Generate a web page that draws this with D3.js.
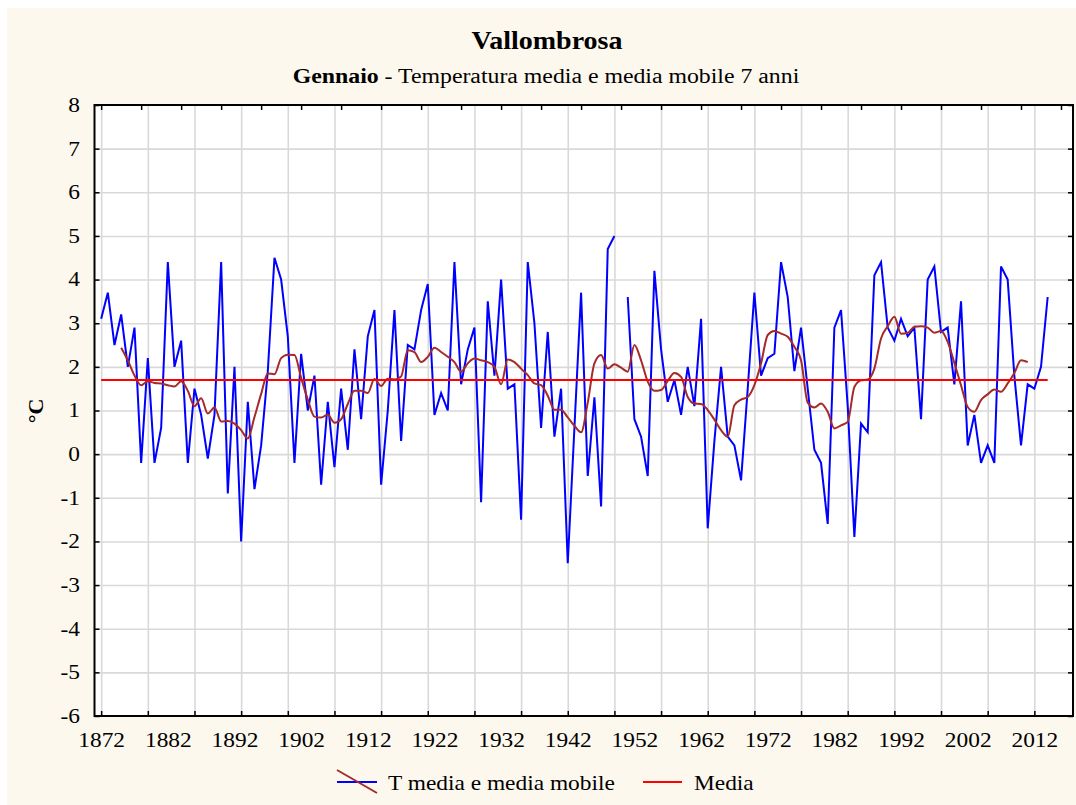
<!DOCTYPE html>
<html lang="it">
<head>
  <meta charset="utf-8">
  <title>Vallombrosa - Gennaio</title>
  <script src="https://d3js.org/d3.v7.min.js"></script>
  <style>
    body { margin: 0; background: #fff; }
    text { font-family: "Liberation Serif", "Times New Roman", serif; fill: #000; }
  </style>
</head>
<body>
  <svg id="chart" width="1076" height="805"></svg>

  <script>
    // Temperatura media di gennaio, un valore per anno dal 1872 (null = dato mancante)
    const primoAnno = 1872;
    const tempGennaio = [
      3.1, 3.7, 2.5, 3.2, 2.0, 2.9, -0.2, 2.2, -0.2, 0.6,
      4.4, 2.0, 2.6, -0.2, 1.5, 0.9, -0.1, 0.9, 4.4, -0.9,
      2.0, -2.0, 1.2, -0.8, 0.2, 1.9, 4.5, 4.0, 2.7, -0.2,
      2.3, 1.0, 1.8, -0.7, 1.2, -0.3, 1.5, 0.1, 2.4, 0.8,
      2.7, 3.3, -0.7, 1.0, 3.3, 0.3, 2.5, 2.4, 3.3, 3.9,
      0.9, 1.4, 1.0, 4.4, 1.6, 2.4, 2.9, -1.1, 3.5, 1.8,
      4.0, 1.5, 1.6, -1.5, 4.4, 3.0, 0.6, 2.8, 0.4, 1.5,
      -2.5, 0.6, 3.7, -0.5, 1.3, -1.2, 4.7, 5.0, null, 3.6,
      0.8, 0.4, -0.5, 4.2, 2.4, 1.2, 1.7, 0.9, 2.0, 1.1,
      3.1, -1.7, 0.3, 2.0, 0.4, 0.2, -0.6, 1.5, 3.7, 1.8,
      2.2, 2.3, 4.4, 3.6, 1.9, 2.9, 1.5, 0.1, -0.2, -1.6,
      2.9, 3.3, 1.1, -1.9, 0.7, 0.5, 4.1, 4.4, 2.9, 2.6,
      3.1, 2.7, 2.9, 0.8, 4.0, 4.3, 2.8, 2.9, 1.6, 3.5,
      0.2, 0.9, -0.2, 0.2, -0.2, 4.3, 4.0, 1.8, 0.2, 1.6,
      1.5, 2.0, 3.6
    ];

    // Media mobile 7 anni, dal 1875 al 2011
    const inizioMobile = 1875;
    const mediaMobile = [
      2.44, 2.15, 1.80, 1.58, 1.67, 1.63, 1.62,
      1.58, 1.55, 1.67, 1.45, 1.10, 1.28, 0.93, 1.07, 0.75, 0.76,
      0.70, 0.55, 0.36, 0.85, 1.38, 1.85, 1.83, 2.20, 2.28, 2.27,
      1.75, 1.25, 0.86, 0.84, 0.90, 0.72, 0.80, 1.15, 1.45, 1.45,
      1.40, 1.72, 1.56, 1.73, 1.71, 1.78, 2.38, 2.34, 2.11, 2.23,
      2.44, 2.34, 2.23, 2.11, 1.89, 2.08, 2.19, 2.15, 2.11, 2.00,
      1.60, 2.17, 2.11, 1.96, 1.81, 1.62, 1.58, 1.34, 1.02, 1.02,
      0.84, 0.65, 0.50, 1.18, 2.08, 2.27, 1.96, 2.06, 1.98, 1.89,
      2.50, 2.15, 1.66, 1.45, 1.47, 1.68, 1.86, 1.77, 1.31, 1.16,
      1.15, 1.01, 0.79, 0.55, 0.40, 1.12, 1.25, 1.31, 1.58, 2.08,
      2.73, 2.82, 2.76, 2.69, 2.46, 2.15, 1.18, 1.07, 1.16, 0.97,
      0.59, 0.66, 0.74, 1.54, 1.69, 1.71, 1.96, 2.65, 2.93, 3.15,
      2.76, 2.78, 2.92, 2.93, 2.90, 2.78, 2.82, 2.57, 2.09, 1.58,
      1.08, 0.97, 1.24, 1.37, 1.48, 1.43, 1.62, 1.86, 2.15, 2.11
    ];

    // Media di tutto il periodo
    const mediaGenerale = 1.7;

    const anniEtichette = [1872, 1882, 1892, 1902, 1912, 1922, 1932, 1942, 1952, 1962, 1972, 1982, 1992, 2002, 2012];
    const valoriY = [-6, -5, -4, -3, -2, -1, 0, 1, 2, 3, 4, 5, 6, 7, 8];
    const anniGriglia = d3.range(1872, 2013, 7);
    const anniTacche = d3.range(1872, 2017, 6);

    const svg = d3.select("#chart");
    const margSx = 94.5, margDx = 1073, margSu = 105, margGiu = 716;
    const allarga = "scale(1.17,1)";

    const x = d3.scaleLinear().domain([1871, 2017.8]).range([margSx, margDx]);
    const y = d3.scaleLinear().domain([-6, 8]).range([margGiu, margSu]);

    // sfondo
    svg.append("rect").attr("width", 1076).attr("height", 805).attr("fill", "#fff");
    svg.append("rect").attr("x", 7).attr("y", 8).attr("width", 1069).attr("height", 797).attr("fill", "#fdf8ee");
    svg.append("rect").attr("x", margSx).attr("y", margSu).attr("width", margDx - margSx).attr("height", margGiu - margSu).attr("fill", "#fff");

    // griglia
    svg.append("g")
      .attr("transform", `translate(0,${margGiu})`)
      .call(d3.axisBottom(x).tickValues(anniGriglia).tickSize(-(margGiu - margSu)).tickFormat(""))
      .call(g => g.select(".domain").remove())
      .selectAll("line").attr("stroke", "#d9d9d9").attr("stroke-width", 1.6);

    svg.append("g")
      .attr("transform", `translate(${margSx},0)`)
      .call(d3.axisLeft(y).tickValues(valoriY.slice(1, -1)).tickSize(-(margDx - margSx)).tickFormat(""))
      .call(g => g.select(".domain").remove())
      .selectAll("line").attr("stroke", "#d9d9d9").attr("stroke-width", 1.6);

    // linee dei dati
    const datiT = tempGennaio.map((v, i) => ({ anno: primoAnno + i, valore: v }));
    const datiM = mediaMobile.map((v, i) => ({ anno: inizioMobile + i, valore: v }));
    const estremi = d3.extent(datiT, d => d.anno);
    const datiMedia = estremi.map(a => ({ anno: a, valore: mediaGenerale }));

    const linea = d3.line()
      .defined(d => d.valore !== null)
      .x(d => x(d.anno))
      .y(d => y(d.valore));

    svg.append("path")
      .datum(datiT)
      .attr("d", linea)
      .attr("fill", "none")
      .attr("stroke", "#0000ff")
      .attr("stroke-width", 2);

    svg.append("path")
      .datum(datiM)
      .attr("d", linea.curve(d3.curveMonotoneX))
      .attr("fill", "none")
      .attr("stroke", "#a52a2a")
      .attr("stroke-width", 2);

    svg.append("path")
      .datum(datiMedia)
      .attr("d", linea.curve(d3.curveLinear))
      .attr("fill", "none")
      .attr("stroke", "#ff0000")
      .attr("stroke-width", 2);

    // tacche interne sui quattro lati
    const tacche = [
      { asse: d3.axisBottom(x).tickValues(anniGriglia), pos: `translate(0,${margGiu})` },
      { asse: d3.axisTop(x).tickValues(anniTacche), pos: `translate(0,${margSu})` },
      { asse: d3.axisLeft(y).tickValues(valoriY), pos: `translate(${margSx},0)` },
      { asse: d3.axisRight(y).tickValues(valoriY), pos: `translate(${margDx},0)` }
    ];
    tacche.forEach(t => {
      svg.append("g")
        .attr("transform", t.pos)
        .call(t.asse.tickSize(-5).tickFormat(""))
        .call(g => g.select(".domain").remove())
        .selectAll("line").attr("stroke", "#000").attr("stroke-width", 1.5);
    });

    // cornice
    svg.append("rect")
      .attr("x", margSx).attr("y", margSu)
      .attr("width", margDx - margSx).attr("height", margGiu - margSu)
      .attr("fill", "none").attr("stroke", "#000").attr("stroke-width", 2);

    // etichette degli assi (trattino semplice per i negativi, come nell'originale)
    const etichetta = d => String(d);

    const assex = svg.append("g")
      .attr("transform", `translate(0,${margGiu})`)
      .call(d3.axisBottom(x).tickValues(anniEtichette).tickSize(0).tickPadding(17).tickFormat(etichetta));
    assex.select(".domain").remove();
    assex.selectAll("text")
      .attr("font-family", "Liberation Serif")
      .attr("font-size", 20)
      .attr("transform", allarga);

    const assey = svg.append("g")
      .attr("transform", `translate(${margSx},0)`)
      .call(d3.axisLeft(y).tickValues(valoriY).tickSize(0).tickPadding(12.5).tickFormat(etichetta));
    assey.select(".domain").remove();
    assey.selectAll("text")
      .attr("font-family", "Liberation Serif")
      .attr("font-size", 20)
      .attr("transform", allarga);

    svg.append("text")
      .attr("transform", "translate(43,411) rotate(-90)")
      .attr("text-anchor", "middle")
      .attr("font-size", 22)
      .attr("font-weight", "bold")
      .text("°C");

    // titoli
    svg.append("text")
      .attr("transform", "translate(547,49) scale(1.12,1)")
      .attr("text-anchor", "middle")
      .attr("font-size", 25)
      .attr("font-weight", "bold")
      .text("Vallombrosa");

    const sottotitolo = svg.append("text")
      .attr("transform", "translate(546,83) scale(1.19,1)")
      .attr("text-anchor", "middle")
      .attr("font-size", 20);
    sottotitolo.append("tspan").attr("font-weight", "bold").text("Gennaio");
    sottotitolo.append("tspan").text(" - Temperatura media e media mobile 7 anni");

    // legenda
    const legenda = svg.append("g");
    legenda.append("line")
      .attr("x1", 337).attr("x2", 377).attr("y1", 782).attr("y2", 782)
      .attr("stroke", "#0000ff").attr("stroke-width", 2);
    legenda.append("line")
      .attr("x1", 337).attr("x2", 377).attr("y1", 770).attr("y2", 793)
      .attr("stroke", "#a52a2a").attr("stroke-width", 2);
    legenda.append("text")
      .attr("transform", "translate(388,790) " + allarga)
      .attr("font-size", 20)
      .text("T media e media mobile");

    legenda.append("line")
      .attr("x1", 643).attr("x2", 682).attr("y1", 782).attr("y2", 782)
      .attr("stroke", "#ff0000").attr("stroke-width", 2);
    legenda.append("text")
      .attr("transform", "translate(694,790) " + allarga)
      .attr("font-size", 20)
      .text("Media");
  </script>
</body>
</html>
